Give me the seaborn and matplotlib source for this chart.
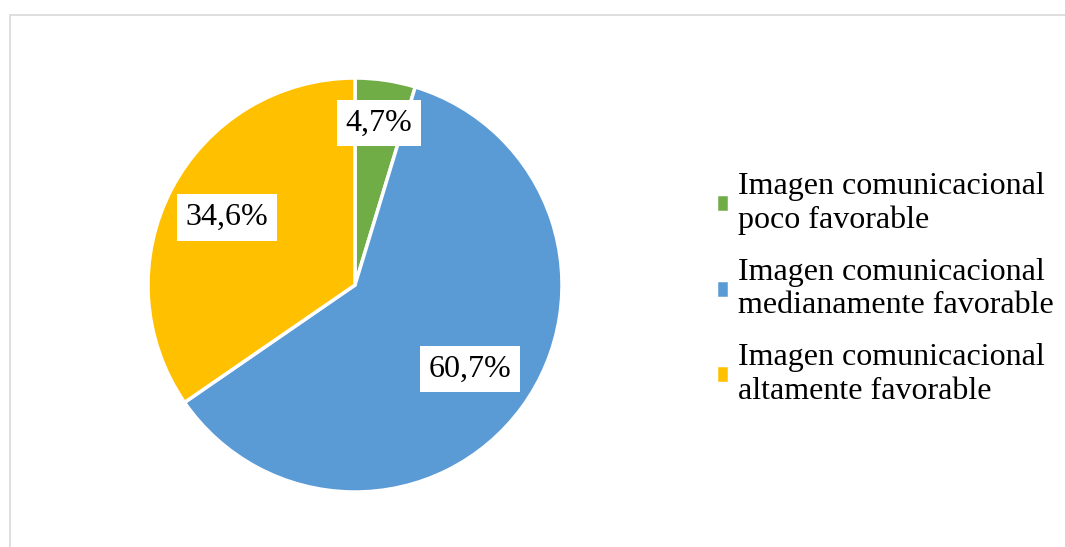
import matplotlib
matplotlib.use("Agg")
import matplotlib.pyplot as plt
import matplotlib.patches as mpatches
import numpy as np
import seaborn as sns

sns.set_theme(style="white")
plt.rcParams["font.family"] = ["Liberation Serif", "DejaVu Serif"]
plt.rcParams["text.color"] = "black"

# Data
categories = [
    "Imagen comunicacional\npoco favorable",
    "Imagen comunicacional\nmedianamente favorable",
    "Imagen comunicacional\naltamente favorable",
]
values = [4.7, 60.7, 34.6]
value_labels = ["4,7%", "60,7%", "34,6%"]
colors = ["#70AD47", "#5B9BD5", "#FFC000"]
label_dist = [0.79, 0.69, 0.70]

fig = plt.figure(figsize=(10.65, 5.47), dpi=100)
fig.patch.set_facecolor("white")

# Chart-area frame
frame = mpatches.Rectangle((9.5 / 1065, -0.1), 1.2, (547 - 14.5) / 547 + 0.1,
                           transform=fig.transFigure, fill=False,
                           edgecolor="#D9D9D9", linewidth=1.2, zorder=0)
fig.patches.append(frame)

W, H = 1065, 547
cx, cy, half = 355, 547 - 285, 212
ax = fig.add_axes([(cx - half) / W, (cy - half) / H, 2 * half / W, 2 * half / H])

wedges, _ = ax.pie(values, colors=colors, startangle=90, counterclock=False,
                   radius=1.0,
                   wedgeprops=dict(edgecolor="white", linewidth=2.5))
lim = half / 207
ax.set_xlim(-lim, lim)
ax.set_ylim(-lim, lim)
ax.set_aspect("equal")
ax.axis("off")

for w, lab, d in zip(wedges, value_labels, label_dist):
    mid = np.deg2rad((w.theta1 + w.theta2) / 2)
    ax.text(d * np.cos(mid), d * np.sin(mid), lab, ha="center", va="center",
            fontsize=23, color="black",
            bbox=dict(boxstyle="square,pad=0.27", facecolor="white", edgecolor="none"))

leg = fig.legend(wedges, categories, loc="center left",
                 bbox_to_anchor=(716 / W, 0.472), frameon=False, fontsize=23,
                 handlelength=0.42, handleheight=0.5, handletextpad=0.28,
                 labelspacing=0.72, borderpad=0, borderaxespad=0,
                 labelcolor="black")

fig.savefig("out.png", dpi=100, facecolor="white")
